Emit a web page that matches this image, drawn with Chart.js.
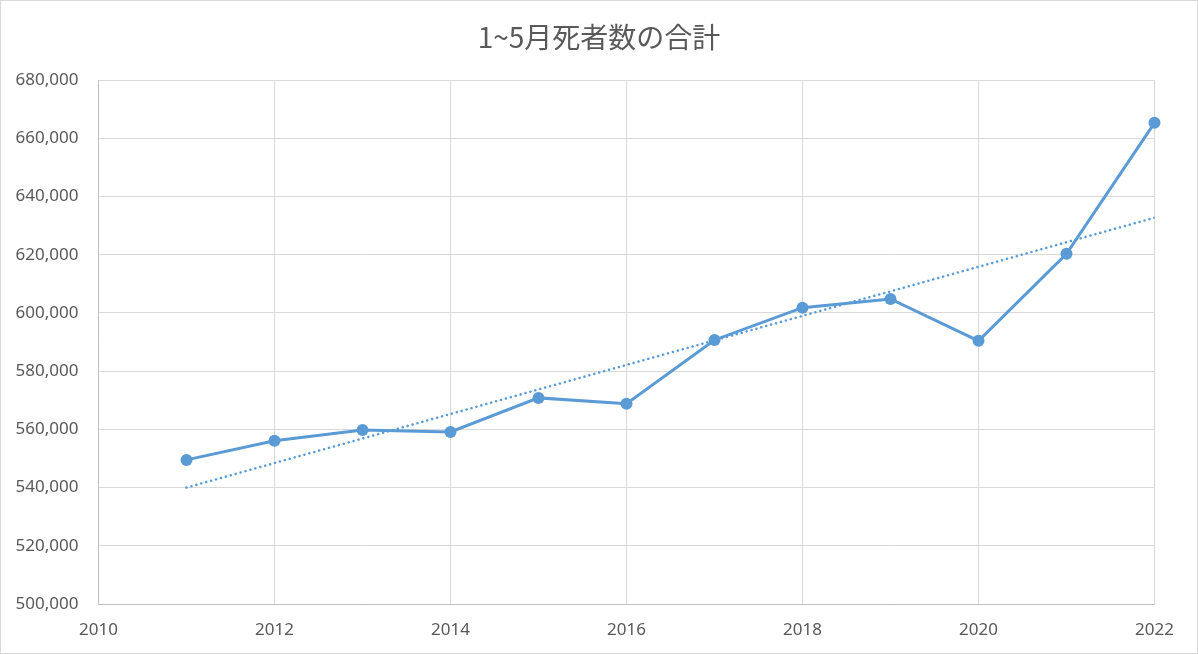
<!DOCTYPE html>
<html>
<head>
<meta charset="utf-8">
<script src="https://cdn.jsdelivr.net/npm/chart.js@4"></script>
<style>
  html, body { margin: 0; padding: 0; background: #fff; }
  #wrap { position: relative; width: 1198px; height: 654px; }
  #frame { position: absolute; left: 0; top: 0; width: 1198px; height: 654px; box-sizing: border-box; border: 1px solid #d9d9d9; pointer-events: none; }
</style>
</head>
<body>
<div id="wrap">
  <canvas id="deathsChart" width="1198" height="654"></canvas>
  <div id="frame"></div>
</div>
<script>
const chartTitle = '1~5月死者数の合計';
const years = [2011, 2012, 2013, 2014, 2015, 2016, 2017, 2018, 2019, 2020, 2021, 2022];
const deaths = [549500, 556100, 559800, 559100, 570800, 568800, 590700, 601800, 604800, 590400, 620300, 665300];
// linear trendline end points
const trendYears = [2011, 2022];
const trendValues = [540000, 632700];

const blue = '#5b9bd5';
const textGray = '#595959';
const gridGray = '#d9d9d9';
const tickFont = { family: '"Noto Sans", sans-serif', size: 17 };

const ctx = document.getElementById('deathsChart').getContext('2d');
new Chart(ctx, {
  type: 'line',
  data: {
    datasets: [
      {
        label: '死者数',
        data: years.map((y, i) => ({ x: y, y: deaths[i] })),
        borderColor: blue,
        backgroundColor: blue,
        borderWidth: 3,
        pointRadius: 6,
        pointBorderWidth: 0,
        tension: 0,
        clip: false,
        order: 2
      },
      {
        label: '線形 (死者数)',
        data: trendYears.map((y, i) => ({ x: y, y: trendValues[i] })),
        borderColor: blue,
        borderWidth: 2.5,
        borderDash: [0.1, 5],
        borderCapStyle: 'round',
        pointRadius: 0,
        tension: 0,
        order: 1
      }
    ]
  },
  options: {
    responsive: false,
    animation: false,
    layout: { padding: 0 },
    plugins: {
      legend: { display: false },
      tooltip: { enabled: false },
      title: {
        display: true,
        text: chartTitle,
        color: textGray,
        font: { family: '"Noto Sans CJK JP", "Noto Sans", sans-serif', size: 28, weight: 'normal' },
        padding: { top: 21, bottom: 25.4 }
      }
    },
    scales: {
      x: {
        type: 'linear',
        min: 2010,
        max: 2022,
        ticks: {
          stepSize: 2,
          color: textGray,
          padding: 16,
          font: tickFont,
          callback: v => String(v)
        },
        grid: { color: gridGray, drawTicks: false },
        border: { color: '#bfbfbf' },
        afterFit: s => { s.height = 50; }
      },
      y: {
        min: 500000,
        max: 680000,
        ticks: {
          stepSize: 20000,
          color: textGray,
          padding: 20,
          font: tickFont,
          callback: v => v.toLocaleString('en-US')
        },
        grid: { color: gridGray, drawTicks: false },
        border: { color: '#bfbfbf' },
        afterFit: s => { s.width = 98.5; }
      },
      // empty right-hand strip so the plot ends where the reference does
      spacer: {
        type: 'linear',
        position: 'right',
        ticks: { display: false },
        grid: { display: false },
        border: { display: false },
        afterFit: s => { s.width = 43.5; }
      }
    }
  }
});
</script>
</body>
</html>
